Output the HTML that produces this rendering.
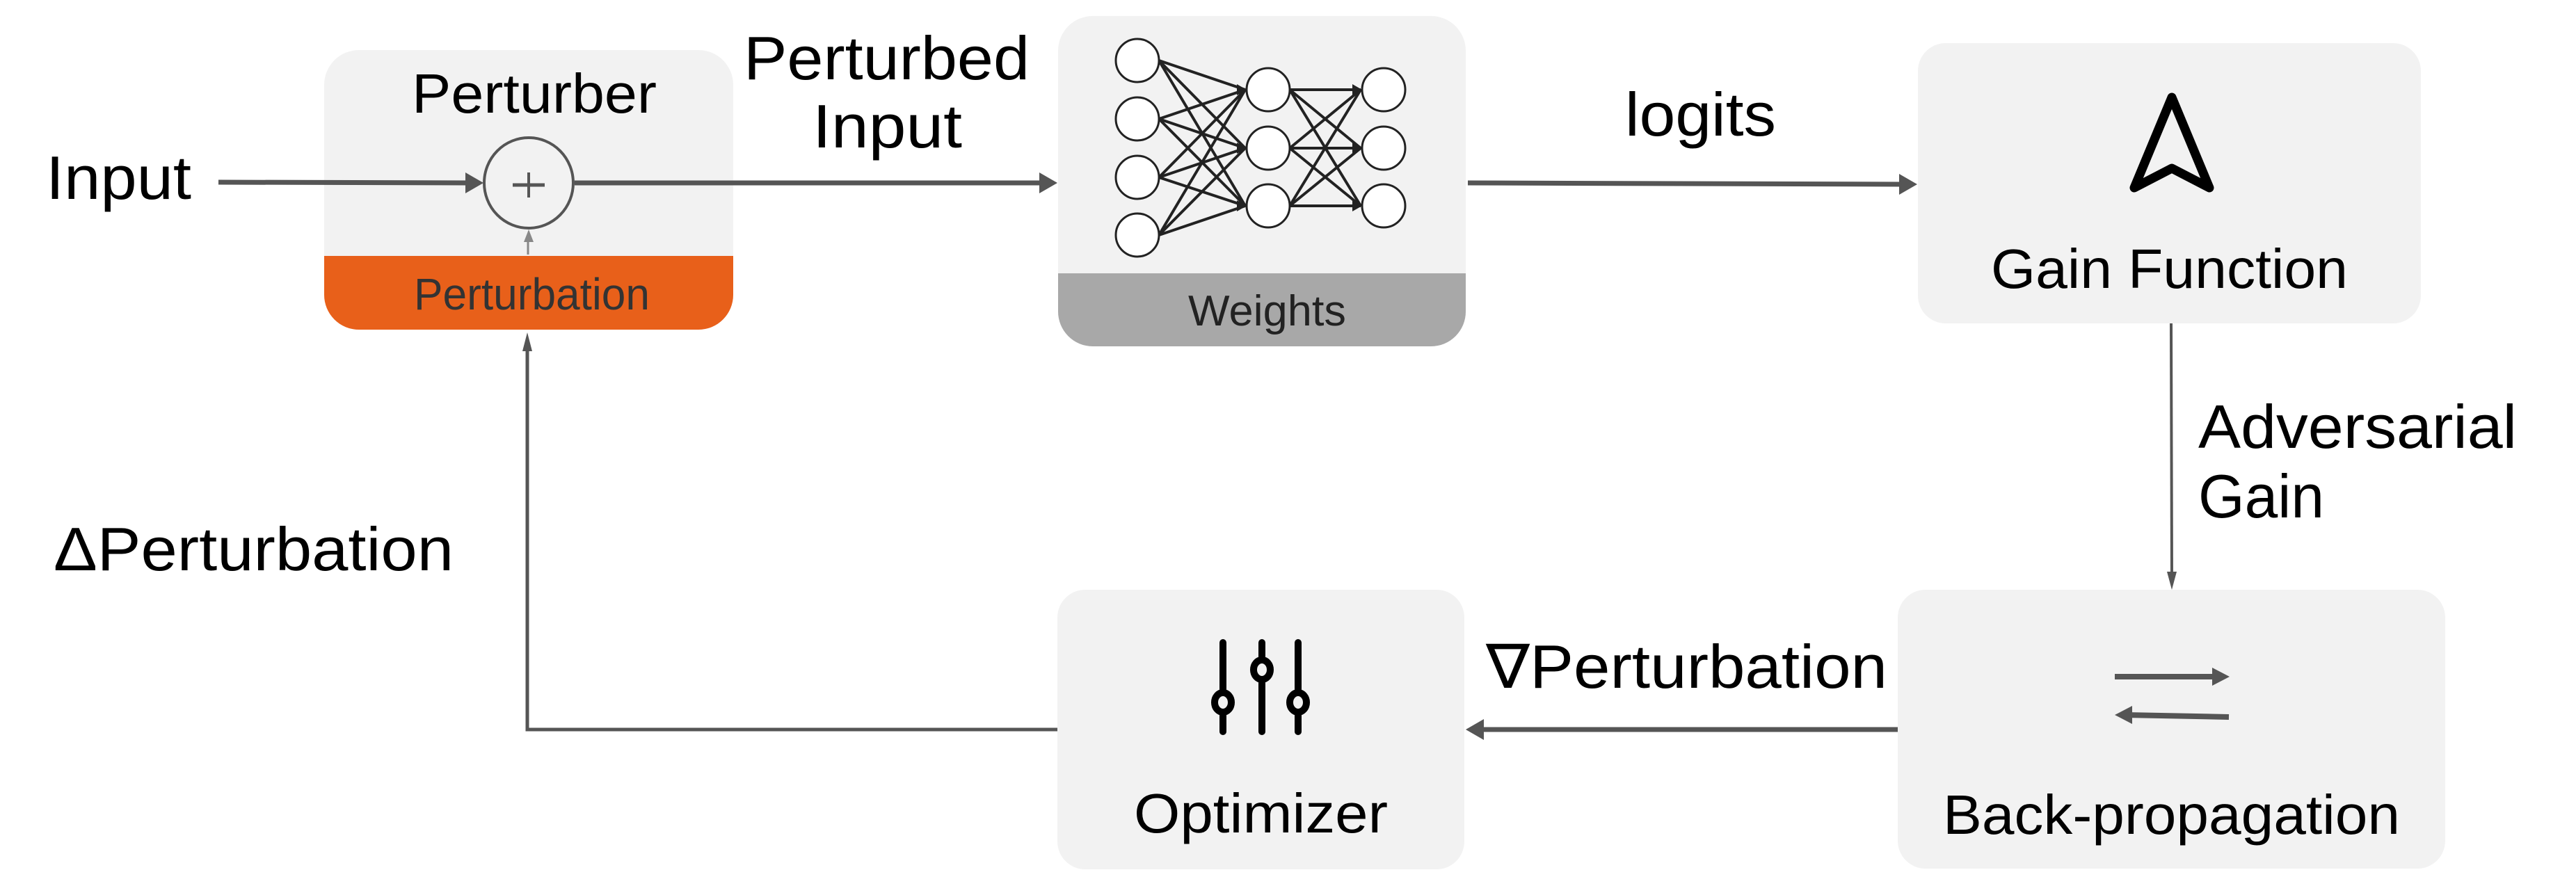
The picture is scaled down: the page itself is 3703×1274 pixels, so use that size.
<!DOCTYPE html>
<html><head><meta charset="utf-8"><style>html,body{margin:0;padding:0;background:#fff;width:3703px;height:1274px;overflow:hidden}</style></head>
<body>
<svg width="3703" height="1274" viewBox="0 0 3703 1274" xmlns="http://www.w3.org/2000/svg" font-family="Liberation Sans, sans-serif">
<defs>
<clipPath id="c1"><rect x="466" y="72" width="588" height="402" rx="50"/></clipPath>
<clipPath id="c2"><rect x="1521" y="23" width="586" height="475" rx="50"/></clipPath>
</defs>

<!-- Perturber box -->
<g clip-path="url(#c1)">
<rect x="466" y="72" width="588" height="402" fill="#f2f2f2"/>
<rect x="466" y="368" width="588" height="106" fill="#e8601a"/>
</g>
<text x="592" y="162" font-size="80" textLength="352" lengthAdjust="spacingAndGlyphs">Perturber</text>
<text x="595" y="445" font-size="64" fill="#333" textLength="339" lengthAdjust="spacingAndGlyphs">Perturbation</text>
<ellipse cx="760" cy="263" rx="64" ry="65" fill="none" stroke="#555" stroke-width="4"/>
<line x1="737" y1="266" x2="783" y2="266" stroke="#555" stroke-width="5"/>
<line x1="760" y1="248" x2="760" y2="284" stroke="#555" stroke-width="4"/>
<line x1="759" y1="366" x2="759" y2="345" stroke="#888" stroke-width="3"/>
<polygon points="760,330 753,348 767,348" fill="#888"/>

<!-- Input -->
<text x="66" y="286" font-size="88" textLength="209" lengthAdjust="spacingAndGlyphs">Input</text>
<line x1="314" y1="262" x2="675" y2="263" stroke="#555" stroke-width="7"/>
<polygon points="695,263 669,248 669,278" fill="#555"/>

<!-- Perturbed input -->
<text x="1069" y="114" font-size="88" textLength="411" lengthAdjust="spacingAndGlyphs">Perturbed</text>
<text x="1168" y="212" font-size="88" textLength="215" lengthAdjust="spacingAndGlyphs">Input</text>
<line x1="826" y1="263" x2="1500" y2="263" stroke="#555" stroke-width="7"/>
<polygon points="1520,263 1494,248 1494,278" fill="#555"/>

<!-- Weights box -->
<g clip-path="url(#c2)">
<rect x="1521" y="23" width="586" height="475" fill="#f2f2f2"/>
<rect x="1521" y="393" width="586" height="105" fill="#a8a8a8"/>
</g>
<text x="1708" y="468" font-size="62" fill="#222" textLength="227" lengthAdjust="spacingAndGlyphs">Weights</text>
<g stroke="#222" stroke-width="4">
<line x1="1666" y1="87" x2="1790" y2="129"/><line x1="1666" y1="87" x2="1790" y2="213"/><line x1="1666" y1="87" x2="1790" y2="296"/>
<line x1="1666" y1="171" x2="1790" y2="129"/><line x1="1666" y1="171" x2="1790" y2="213"/><line x1="1666" y1="171" x2="1790" y2="296"/>
<line x1="1666" y1="255" x2="1790" y2="129"/><line x1="1666" y1="255" x2="1790" y2="213"/><line x1="1666" y1="255" x2="1790" y2="296"/>
<line x1="1666" y1="338" x2="1790" y2="129"/><line x1="1666" y1="338" x2="1790" y2="213"/><line x1="1666" y1="338" x2="1790" y2="296"/>
<line x1="1854" y1="129" x2="1956" y2="129"/><line x1="1854" y1="129" x2="1956" y2="213"/><line x1="1854" y1="129" x2="1956" y2="296"/>
<line x1="1854" y1="213" x2="1956" y2="129"/><line x1="1854" y1="213" x2="1956" y2="213"/><line x1="1854" y1="213" x2="1956" y2="296"/>
<line x1="1854" y1="296" x2="1956" y2="129"/><line x1="1854" y1="296" x2="1956" y2="213"/><line x1="1854" y1="296" x2="1956" y2="296"/>
</g>
<g fill="#222">
<polygon points="1792,129 1778,121 1778,137"/><polygon points="1792,213 1778,205 1778,221"/><polygon points="1792,296 1778,288 1778,304"/>
<polygon points="1958,129 1944,121 1944,137"/><polygon points="1958,213 1944,205 1944,221"/><polygon points="1958,296 1944,288 1944,304"/>
</g>
<g fill="#fff" stroke="#222" stroke-width="3">
<circle cx="1635" cy="87" r="31"/><circle cx="1635" cy="171" r="31"/><circle cx="1635" cy="255" r="31"/><circle cx="1635" cy="338" r="31"/>
<circle cx="1823" cy="129" r="31"/><circle cx="1823" cy="213" r="31"/><circle cx="1823" cy="296" r="31"/>
<circle cx="1989" cy="129" r="31"/><circle cx="1989" cy="213" r="31"/><circle cx="1989" cy="296" r="31"/>
</g>

<!-- logits -->
<text x="2336" y="195" font-size="88" textLength="217" lengthAdjust="spacingAndGlyphs">logits</text>
<line x1="2110" y1="263" x2="2735" y2="265" stroke="#555" stroke-width="7"/>
<polygon points="2756,265 2730,250 2730,280" fill="#555"/>

<!-- Gain Function -->
<rect x="2757" y="62" width="723" height="403" rx="40" fill="#f2f2f2"/>
<polygon points="3122,140 3176,270 3122,242 3068,270" fill="none" stroke="#000" stroke-width="13" stroke-linejoin="round"/>
<text x="2862" y="414" font-size="80" textLength="513" lengthAdjust="spacingAndGlyphs">Gain Function</text>

<!-- Adversarial gain -->
<line x1="3121" y1="465" x2="3122" y2="830" stroke="#555" stroke-width="4"/>
<polygon points="3122,848 3115,822 3129,822" fill="#555"/>
<text x="3160" y="644" font-size="88" textLength="458" lengthAdjust="spacingAndGlyphs">Adversarial</text>
<text x="3160" y="744" font-size="88" textLength="181" lengthAdjust="spacingAndGlyphs">Gain</text>

<!-- Back-propagation -->
<rect x="2728" y="848" width="787" height="401" rx="40" fill="#f2f2f2"/>
<line x1="3040" y1="973" x2="3190" y2="973" stroke="#555" stroke-width="8"/>
<polygon points="3205,973 3180,960 3180,986" fill="#555"/>
<line x1="3055" y1="1028" x2="3204" y2="1031" stroke="#555" stroke-width="8"/>
<polygon points="3040,1028 3065,1015 3065,1041" fill="#555"/>
<text x="2793" y="1199" font-size="80" textLength="657" lengthAdjust="spacingAndGlyphs">Back-propagation</text>

<!-- nabla -->
<text x="2136" y="989" font-size="88" textLength="577" lengthAdjust="spacingAndGlyphs">∇Perturbation</text>
<line x1="2728" y1="1049" x2="2125" y2="1049" stroke="#555" stroke-width="7"/>
<polygon points="2107,1049 2133,1034 2133,1064" fill="#555"/>

<!-- Optimizer -->
<rect x="1520" y="848" width="585" height="402" rx="40" fill="#f2f2f2"/>
<g stroke="#000" stroke-width="10" stroke-linecap="round" fill="#f2f2f2">
<line x1="1758" y1="924" x2="1758" y2="1052"/>
<line x1="1814" y1="924" x2="1814" y2="1052"/>
<line x1="1866" y1="924" x2="1866" y2="1052"/>
<ellipse cx="1758" cy="1010" rx="12" ry="14"/>
<ellipse cx="1814" cy="963" rx="12" ry="14"/>
<ellipse cx="1866" cy="1010" rx="12" ry="14"/>
</g>
<text x="1630" y="1197" font-size="80" textLength="365" lengthAdjust="spacingAndGlyphs">Optimizer</text>

<!-- Delta perturbation feedback -->
<polyline points="1520,1049 758,1049 758,500" fill="none" stroke="#555" stroke-width="5"/>
<polygon points="758,478 751,505 765,505" fill="#555"/>
<text x="77" y="820" font-size="88" textLength="575" lengthAdjust="spacingAndGlyphs">ΔPerturbation</text>
</svg>
</body></html>
